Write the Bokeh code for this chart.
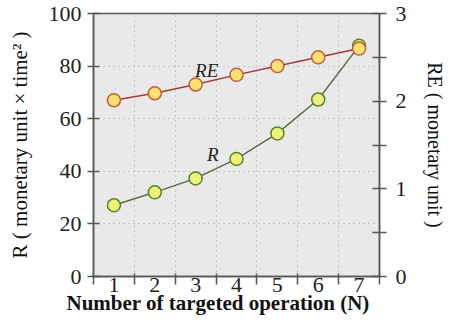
from bokeh.plotting import figure
from bokeh.models import Range1d, LinearAxis, FixedTicker, Label
from bokeh.embed import file_html
from bokeh.resources import INLINE

# ---- data ----
N = [1, 2, 3, 4, 5, 6, 7]
R = [27.1, 32.0, 37.3, 44.7, 54.4, 67.3, 87.7]
RE = [2.01, 2.09, 2.19, 2.30, 2.40, 2.50, 2.60]

x_label_ticks = [1, 2, 3, 4, 5, 6, 7]
x_mark_ticks = [0.5, 1.5, 2.5, 3.5, 4.5, 5.5, 6.5, 7.5]
x_grid_ticks = [1.5, 2.5, 3.5, 4.5, 5.5, 6.5]
left_ticks = [0, 20, 40, 60, 80, 100]
right_ticks = [0, 0.5, 1, 1.5, 2, 2.5, 3]
right_tick_labels = {0: "0", 0.5: "", 1: "1", 1.5: "", 2: "2", 2.5: "", 3: "3"}

FONT = "Liberation Serif"
AXIS_COL = "#555555"

p = figure(width=448, height=317,
           x_range=Range1d(0.5, 7.5), y_range=Range1d(0, 100),
           output_backend="svg", toolbar_location=None,
           min_border_left=93, min_border_right=67,
           min_border_top=13, min_border_bottom=41)
p.extra_y_ranges = {"re": Range1d(0, 3)}

p.background_fill_color = "#e9e9e9"
p.border_fill_color = "white"
p.outline_line_color = AXIS_COL
p.outline_line_width = 1.5

# grids
p.xgrid.ticker = FixedTicker(ticks=x_grid_ticks)
p.ygrid.ticker = FixedTicker(ticks=left_ticks)
for g in (p.xgrid, p.ygrid):
    g.grid_line_color = "#a0a0a0"
    g.grid_line_dash = "1 4"
    g.grid_line_width = 1

# x axis
xa = p.xaxis[0]
xa.ticker = FixedTicker(ticks=x_label_ticks, minor_ticks=x_mark_ticks)
xa.minor_tick_in = 3
xa.minor_tick_out = 8
xa.major_tick_out = 8
xa.major_label_standoff = -7
xa.axis_label = "Number of targeted operation (N)" + "\u00a0" * 7
xa.axis_label_text_font_size = "21px"
xa.axis_label_text_font_style = "bold"
xa.axis_label_standoff = -4

# left axis
ya = p.yaxis[0]
ya.ticker = FixedTicker(ticks=left_ticks)
ya.major_tick_in = 6
ya.major_tick_out = 6
ya.major_label_standoff = 6
ya.axis_label = "R ( monetary unit \u00d7 time\u00b2 )"
ya.axis_label_text_font_size = "21px"
ya.axis_label_standoff = 14

# right axis
ra = LinearAxis(y_range_name="re", ticker=FixedTicker(ticks=right_ticks))
ra.major_label_overrides = right_tick_labels
ra.major_tick_in = 7
ra.major_tick_out = 7
ra.major_label_standoff = 9
ra.axis_label = "RE ( monetary unit )"
ra.axis_label_text_font_size = "20px"
ra.axis_label_standoff = 14
p.add_layout(ra, "right")

for ax in (xa, ya, ra):
    ax.axis_line_color = AXIS_COL
    ax.axis_line_width = 1.5
    ax.major_tick_line_color = AXIS_COL if ax is not xa else None
    ax.major_tick_line_width = 1.5
    ax.minor_tick_line_color = AXIS_COL if ax is xa else None
    ax.minor_tick_line_width = 1.5
    ax.major_label_text_font = FONT
    ax.major_label_text_font_size = "22px"
    ax.major_label_text_color = "#222222"
    ax.axis_label_text_font = FONT
    ax.axis_label_text_color = "#111111"
    if ax is not xa:
        ax.axis_label_text_font_style = "normal"

# series R (left axis)
p.line(N, R, line_color="#5e6b45", line_width=1.5)
p.scatter(N, R, marker="circle", size=13, fill_color="#eef27a",
          line_color="#55852a", line_width=1.5)

# series RE (right axis)
p.line(N, RE, line_color="#a23a3a", line_width=1.5, y_range_name="re")
p.scatter(N, RE, marker="circle", size=13, fill_color="#ffe070",
          line_color="#c0603a", line_width=1.5, y_range_name="re")

# in-plot labels
p.add_layout(Label(x=3.27, y=2.35, y_range_name="re", text="RE",
                   text_font=FONT, text_font_style="italic",
                   text_font_size="19px", text_align="center",
                   text_baseline="middle", text_color="#222222"))
p.add_layout(Label(x=3.42, y=46.3, text="R",
                   text_font=FONT, text_font_style="italic",
                   text_font_size="19px", text_align="center",
                   text_baseline="middle", text_color="#222222"))

open("out.html", "w").write(file_html(p, INLINE))
